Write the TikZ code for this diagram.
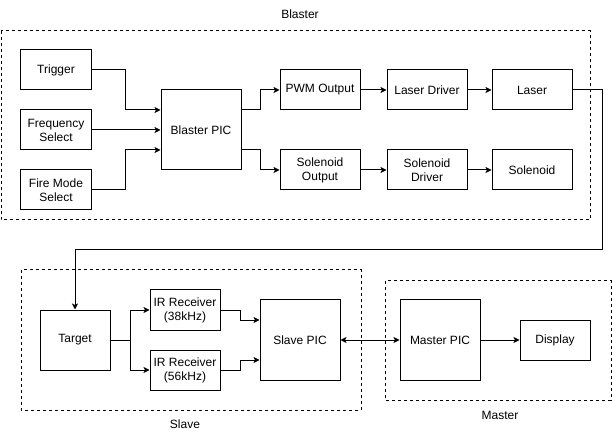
\documentclass[tikz,border=0pt]{standalone}
\usepackage{fontspec}
\setmainfont{Liberation Sans}
\usetikzlibrary{arrows.meta}
\usetikzlibrary{positioning}
\tikzset{>={Stealth[length=6bp,width=6bp,inset=1.5bp]}}
\tikzset{
    block/.style={draw, line width=1bp, align=center, inner sep=0pt,
        minimum width=70bp, minimum height=40bp},
    chip/.style={block, minimum width=80bp, minimum height=80bp},
    group/.style={draw, line width=1bp, dash pattern=on 3bp off 3bp},
    wire/.style={->, line width=1bp}
}

\begin{document}
\begin{tikzpicture}[x=1bp, y=-1bp, font=\fontsize{12bp}{14bp}\selectfont]
            \useasboundingbox (0,0) rectangle (612,441);
            \draw [group] (1,31) rectangle (590,220);
            \draw [group] (21,270) rectangle (361,410);
            \draw [group] (385,281) rectangle (611,400);
            \node (Blabel) at (300,14) {Blaster};
            \node (Slabel) at (185,424) {Slave};
            \node (Mlabel) at (500,415) {Master};

            \node [block] (Trigger) at (56,70) {Trigger};
            \node [block] (FreqSel) at (56,130) {Frequency\\Select};
            \node [block] (ModeSel) at (56,190) {Fire Mode\\Select};
            \node [chip] (BPic) at (201,130) {Blaster PIC};
            \node [block, minimum width=80bp] (PwmOut) at (320,90) {PWM Output};
            \node [block, minimum width=80bp] (SOut) at (320,170) {Solenoid\\Output};
            \node [block, minimum width=80bp, right=26bp of PwmOut] (LDriver) {Laser Driver};
            \node [block, minimum width=80bp, right=26bp of SOut] (SDriver) {Solenoid\\Driver};
            \node [block, minimum width=80bp, right=24bp of LDriver] (Laser) {Laser};
            \node [block, minimum width=80bp, right=24bp of SDriver] (Sol) {Solenoid};

            \node [block, minimum height=60bp] (Target) at (75,340) {Target};
            \node [block] (IRlow) at (185,310) {IR Receiver\\(38kHz)};
            \node [block] (IRhigh) at (185,370) {IR Receiver\\(56kHz)};
            \node [chip] (SPic) at (300,340) {Slave PIC};
            \node [chip] (MPic) at (440,340) {Master PIC};
            \node [block] (Disp) at (555,340) {Display};
            \coordinate (Route) at (602,250);

            \draw [wire] (Trigger.east) -- ++(34,0) |- ([yshift=20bp]BPic.west);
            \draw [wire] (FreqSel.east) -- (BPic.west);
            \draw [wire] (ModeSel.east) -- ++(34,0) |- ([yshift=-20bp]BPic.west);
            \draw [wire] ([yshift=20bp]BPic.east) -- ++(19,0) |- (PwmOut.west);
            \draw [wire] ([yshift=-20bp]BPic.east) -- ++(19,0) |- (SOut.west);
            \draw [wire] (PwmOut) -- (LDriver);
            \draw [wire] (LDriver) -- (Laser);
            \draw [wire] (SOut) -- (SDriver);
            \draw [wire] (SDriver) -- (Sol);
            \draw [wire] (Laser.east) -| (Route) -| (Target.north);
            \draw [wire] (Target.east) -- ++(20,0) |- (IRlow.west);
            \draw [wire] (Target.east) -- ++(20,0) |- (IRhigh.west);
            \draw [wire] (IRlow.east) -- ++(20,0) |- ([yshift=20bp]SPic.west);
            \draw [wire] (IRhigh.east) -- ++(20,0) |- ([yshift=-20bp]SPic.west);
            \draw [wire, <->] (SPic) -- (MPic);
            \draw [wire] (MPic) -- (Disp);
        \end{tikzpicture}
\end{document}
